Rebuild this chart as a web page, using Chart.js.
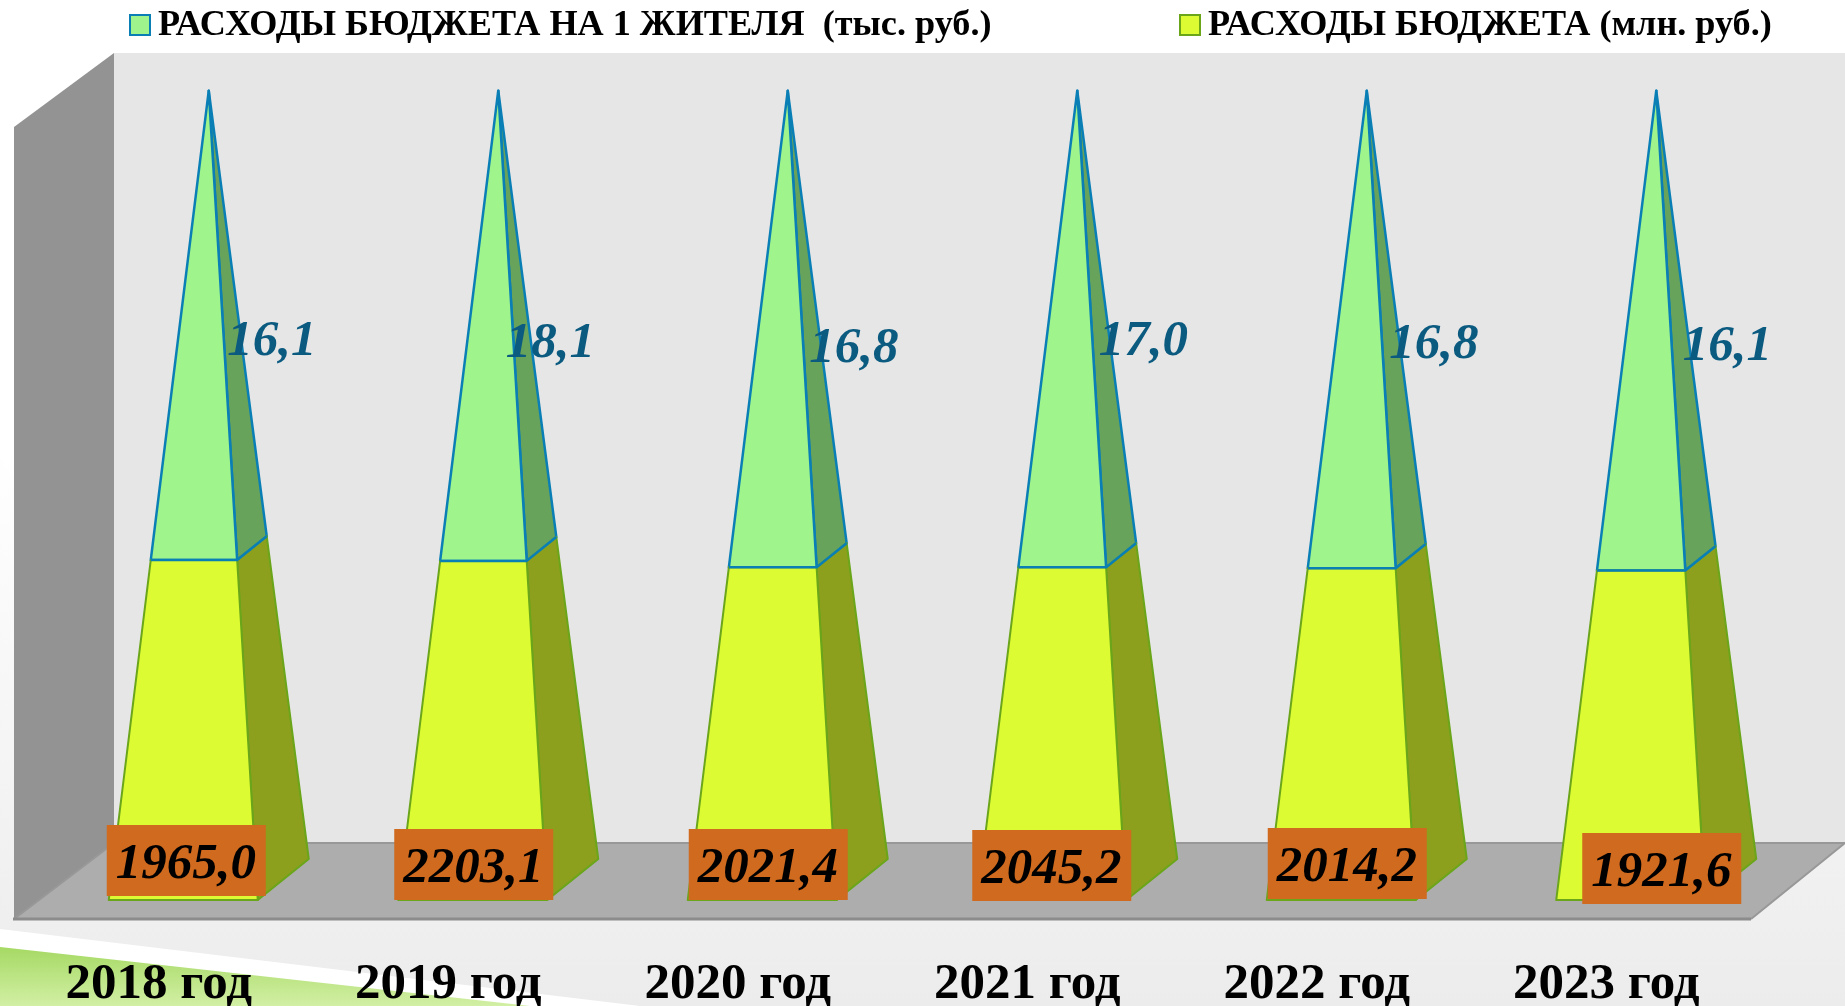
<!DOCTYPE html>
<html lang="ru">
<head>
<meta charset="utf-8">
<title>Расходы бюджета</title>
<script src="https://cdn.jsdelivr.net/npm/chart.js@4"></script>
<style>
    html, body { margin: 0; padding: 0; background: #fff; overflow: hidden; }
    canvas { display: block; }
</style>
</head>
<body>
<canvas id="budgetChart" width="1845" height="1006"></canvas>
<script>
// Data
const years = ['2018 год', '2019 год', '2020 год', '2021 год', '2022 год', '2023 год'];
const budgetExpenses = [1965.0, 2203.1, 2021.4, 2045.2, 2014.2, 1921.6];
const perCapitaExpenses = [16.1, 18.1, 16.8, 17.0, 16.8, 16.1];
// Share of the pyramid height taken by each segment (100% stacked)
const budgetShare = [42.0, 41.9, 41.1, 41.1, 41.0, 40.7];
const perCapitaShare = [58.0, 58.1, 58.9, 58.9, 59.0, 59.3];

// Manually placed labels, offsets from the category centre
const budgetBoxDx = [28, 26, 31, 25, 31, 56];
const budgetBoxDy = [-39, -35, -35, -34, -36, -31];
const perCapitaLabelDx = [113, 102, 116, 116, 117, 121];
const perCapitaLabelDy = [251, 253, 258, 251, 254, 256];

const SERIF = '"Liberation Serif", serif';

function formatRu(value) {
    return value.toFixed(1).replace('.', ',');
}

function polygon(ctx, points, fill, stroke, lineWidth) {
    ctx.beginPath();
    points.forEach((p, i) => i ? ctx.lineTo(p[0], p[1]) : ctx.moveTo(p[0], p[1]));
    ctx.closePath();
    ctx.fillStyle = fill;
    ctx.fill();
    if (stroke) {
        ctx.strokeStyle = stroke;
        ctx.lineWidth = lineWidth;
        ctx.lineJoin = 'round';
        ctx.stroke();
    }
}

// Bars drawn as 3D pyramid segments, still placed by the chart scales
class PyramidController extends Chart.BarController {
    draw() {
        const ctx = this.chart.ctx;
        const meta = this.getMeta();
        const yScale = this._cachedMeta.vScale;
        const y0 = yScale.getPixelForValue(0);
        const yApex = yScale.getPixelForValue(100);
        const ds = this.getDataset();

        // corner of the base moved up toward the apex, t = 0..1
        const at = (x, t, frontDx, depthY) => {
            const apexX = x + 50;
            const bx = x + frontDx;
            const by = y0 - depthY;
            return [bx + (apexX - bx) * t, by + (yApex - by) * t];
        };

        meta.data.forEach(bar => {
            const x = bar.x;
            const t1 = (y0 - bar.base) / (y0 - yApex);
            const t2 = (y0 - bar.y) / (y0 - yApex);
            ctx.save();
            polygon(ctx, [at(x, t1, 99, 0), at(x, t1, 150, 41), at(x, t2, 150, 41), at(x, t2, 99, 0)],
                ds.sideColor, ds.borderColor, ds.borderWidth);
            polygon(ctx, [at(x, t1, -50, 0), at(x, t1, 99, 0), at(x, t2, 99, 0), at(x, t2, -50, 0)],
                ds.backgroundColor, ds.borderColor, ds.borderWidth);
            // the seam between the segments belongs to the upper one
            if (ds.seamColor) {
                const a = at(x, t2, -50, 0), b = at(x, t2, 99, 0), c = at(x, t2, 150, 41);
                ctx.beginPath();
                ctx.moveTo(a[0], a[1]);
                ctx.lineTo(b[0], b[1]);
                ctx.lineTo(c[0], c[1]);
                ctx.strokeStyle = ds.seamColor;
                ctx.lineWidth = 2.5;
                ctx.stroke();
            }
            ctx.restore();
        });
    }
}
PyramidController.id = 'pyramid';
PyramidController.defaults = Chart.BarController.defaults;
PyramidController.overrides = Chart.BarController.overrides;
Chart.register(PyramidController);

// Page background, walls and floor of the chart box
const roomPlugin = {
    id: 'room',
    beforeDraw(chart) {
        const { ctx, width, height, chartArea: a } = chart;
        const grad = ctx.createLinearGradient(0, 450, 0, height);
        grad.addColorStop(0, '#ffffff');
        grad.addColorStop(1, '#ececec');
        ctx.fillStyle = grad;
        ctx.fillRect(0, 0, width, height);

        polygon(ctx, [[0, 929], [640, 1006], [0, 1006]], '#ffffff');
        const green = ctx.createLinearGradient(0, 947, 0, height);
        green.addColorStop(0, '#a6d964');
        green.addColorStop(1, '#d2efa4');
        polygon(ctx, [[0, 947], [530, 1006], [0, 1006]], green);

        const backX = a.left + 100;
        const backY = a.bottom - 57;
        const frontY = a.bottom + 19;
        ctx.fillStyle = '#e6e6e6';
        ctx.fillRect(backX, a.top, width - backX, backY - a.top);
        polygon(ctx, [[a.left, a.top + 74], [backX, a.top], [backX, backY], [a.left, frontY]], '#939393');
        polygon(ctx, [[a.left, frontY], [backX, backY], [width, backY], [a.right, frontY]], '#adadad');

        ctx.strokeStyle = '#989898';
        ctx.lineWidth = 2;
        ctx.beginPath();
        ctx.moveTo(backX, backY);
        ctx.lineTo(width, backY);
        ctx.moveTo(a.left, frontY);
        ctx.lineTo(backX, backY);
        ctx.moveTo(a.right, frontY);
        ctx.lineTo(width, backY);
        ctx.stroke();
        ctx.strokeStyle = '#8c8c8c';
        ctx.lineWidth = 3;
        ctx.beginPath();
        ctx.moveTo(a.left - 1, frontY);
        ctx.lineTo(a.right, frontY);
        ctx.stroke();

        // Legend, wide gap between the items so it is drawn by hand
        const legendItems = [[chart.data.datasets[1], 130], [chart.data.datasets[0], 1180]];
        ctx.save();
        ctx.font = 'bold 36.2px ' + SERIF;
        ctx.textBaseline = 'middle';
        legendItems.forEach(([ds, x]) => {
            ctx.fillStyle = ds.backgroundColor;
            ctx.strokeStyle = ds.borderColor;
            ctx.lineWidth = 2;
            ctx.fillRect(x, 15, 20, 20);
            ctx.strokeRect(x, 15, 20, 20);
            ctx.fillStyle = '#000000';
            ctx.fillText(ds.label, x + 28, 26);
        });
        ctx.restore();
    }
};

// Value labels on top of the pyramids
const labelPlugin = {
    id: 'valueLabels',
    afterDatasetsDraw(chart) {
        const ctx = chart.ctx;
        const xScale = chart.scales.x;
        const yScale = chart.scales.y;
        const y0 = yScale.getPixelForValue(0);
        const yApex = yScale.getPixelForValue(100);
        ctx.save();
        ctx.textAlign = 'center';
        ctx.textBaseline = 'middle';
        years.forEach((year, i) => {
            const x = xScale.getPixelForValue(i);

            ctx.font = 'italic bold 51px ' + SERIF;
            ctx.fillStyle = '#0b5a80';
            ctx.fillText(formatRu(perCapitaExpenses[i]), x + perCapitaLabelDx[i], yApex + perCapitaLabelDy[i]);

            const bx = x + budgetBoxDx[i];
            const by = y0 + budgetBoxDy[i];
            ctx.fillStyle = '#d06a1e';
            ctx.fillRect(bx - 80, by - 36, 159, 71);
            ctx.font = 'italic bold 51px ' + SERIF;
            ctx.fillStyle = '#000000';
            ctx.fillText(formatRu(budgetExpenses[i]), bx - 1, by + 4);
        });
        ctx.restore();
    }
};

new Chart(document.getElementById('budgetChart'), {
    type: 'pyramid',
    data: {
        labels: years,
        datasets: [
            {
                label: 'РАСХОДЫ БЮДЖЕТА (млн. руб.)',
                data: budgetShare,
                backgroundColor: '#dcfb32',
                sideColor: '#8ca01e',
                borderColor: '#6aa51a',
                seamColor: '#0a7fb5',
                borderWidth: 2,
                clip: false
            },
            {
                label: 'РАСХОДЫ БЮДЖЕТА НА 1 ЖИТЕЛЯ  (тыс. руб.)',
                data: perCapitaShare,
                backgroundColor: '#a0f48c',
                sideColor: '#68a35c',
                borderColor: '#0a7fb5',
                borderWidth: 2.5,
                clip: false
            }
        ]
    },
    options: {
        responsive: false,
        animation: false,
        layout: { padding: { left: 14, right: 94, top: 53, bottom: 0 } },
        scales: {
            x: {
                stacked: true,
                grid: { display: false },
                border: { display: false },
                afterFit(scale) {
                    scale.height = 106;
                },
                ticks: {
                    autoSkip: false,
                    maxRotation: 0,
                    padding: 46,
                    color: '#000000',
                    font: { family: SERIF, size: 51, weight: 'bold' }
                }
            },
            y: {
                stacked: true,
                display: false,
                min: 0,
                max: 104.65
            }
        },
        plugins: {
            tooltip: { enabled: false },
            legend: { display: false }
        }
    },
    plugins: [roomPlugin, labelPlugin]
});
</script>
</body>
</html>
